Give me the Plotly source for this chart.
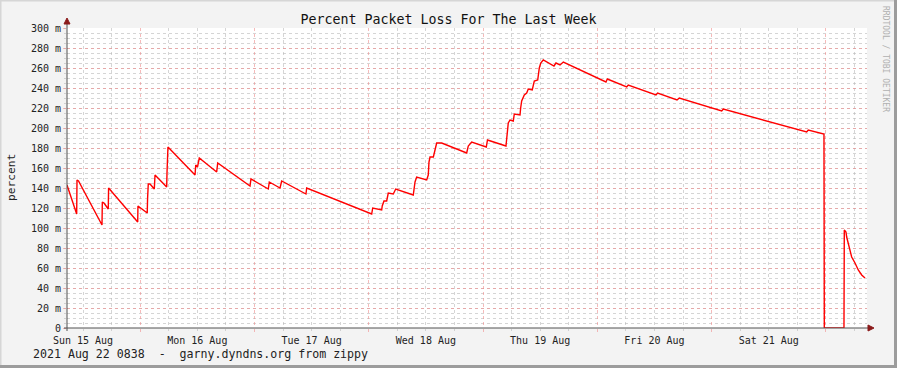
import plotly.graph_objects as go

# ---- data (percent packet loss, in milli-percent) ----
times = [
    "2021-08-15 08:38", "2021-08-15 10:40", "2021-08-15 10:44", "2021-08-15 11:03",
    "2021-08-15 15:59", "2021-08-15 16:03", "2021-08-15 16:24", "2021-08-15 17:18",
    "2021-08-15 17:22", "2021-08-15 23:29", "2021-08-15 23:32", "2021-08-16 01:29",
    "2021-08-16 01:33", "2021-08-16 01:42", "2021-08-16 02:04", "2021-08-16 02:58",
    "2021-08-16 03:07", "2021-08-16 05:34", "2021-08-16 05:38", "2021-08-16 05:50",
    "2021-08-16 11:31", "2021-08-16 11:40", "2021-08-16 12:02", "2021-08-16 12:25",
    "2021-08-16 16:04", "2021-08-16 16:17", "2021-08-16 23:04", "2021-08-16 23:16",
    "2021-08-17 02:54", "2021-08-17 03:07", "2021-08-17 05:22", "2021-08-17 05:43",
    "2021-08-17 10:49", "2021-08-17 10:58", "2021-08-18 00:37", "2021-08-18 00:50",
    "2021-08-18 02:43", "2021-08-18 02:50", "2021-08-18 03:12", "2021-08-18 03:46",
    "2021-08-18 04:06", "2021-08-18 05:09", "2021-08-18 05:40", "2021-08-18 09:21",
    "2021-08-18 09:43", "2021-08-18 10:04", "2021-08-18 12:10", "2021-08-18 12:30",
    "2021-08-18 12:39", "2021-08-18 12:52", "2021-08-18 13:34", "2021-08-18 13:55",
    "2021-08-18 14:16", "2021-08-18 15:19", "2021-08-18 20:34", "2021-08-18 20:54",
    "2021-08-18 21:37", "2021-08-19 00:41", "2021-08-19 00:56", "2021-08-19 04:49",
    "2021-08-19 04:58", "2021-08-19 05:11", "2021-08-19 05:18", "2021-08-19 05:40",
    "2021-08-19 06:21", "2021-08-19 06:34", "2021-08-19 07:46", "2021-08-19 07:54",
    "2021-08-19 08:07", "2021-08-19 08:40", "2021-08-19 09:10", "2021-08-19 09:30",
    "2021-08-19 10:20", "2021-08-19 10:46", "2021-08-19 11:29", "2021-08-19 11:49",
    "2021-08-19 12:07", "2021-08-19 12:39", "2021-08-19 14:54", "2021-08-19 15:19",
    "2021-08-19 16:10", "2021-08-19 16:52", "2021-08-20 01:49", "2021-08-20 02:06",
    "2021-08-20 06:10", "2021-08-20 06:30", "2021-08-20 12:19", "2021-08-20 12:40",
    "2021-08-20 16:44", "2021-08-20 17:13", "2021-08-21 02:07", "2021-08-21 02:28",
    "2021-08-21 19:58", "2021-08-21 20:18", "2021-08-21 23:36", "2021-08-21 23:40",
    "2021-08-22 03:48", "2021-08-22 03:52", "2021-08-22 04:13", "2021-08-22 04:22",
    "2021-08-22 04:42", "2021-08-22 05:04", "2021-08-22 05:25", "2021-08-22 06:07",
    "2021-08-22 06:48", "2021-08-22 07:31", "2021-08-22 08:13",
]
loss_milli = [
    143, 114, 148, 147,
    103, 126, 125, 119,
    140, 106, 122, 115,
    129, 144, 144, 139,
    153, 141, 155, 181,
    153, 163, 161, 170,
    156, 165, 142, 149,
    139, 146, 140, 147,
    134, 140, 114, 120,
    118, 122, 127, 127,
    135, 134, 139, 133,
    146, 151, 148, 153,
    166, 171, 171, 180,
    185, 185, 175, 182,
    186, 181, 188, 182,
    191, 198, 205, 208,
    207, 214, 213, 220,
    227, 233, 235, 239,
    238, 247, 248, 260,
    265, 268, 262, 265,
    263, 266, 246, 249,
    241, 243, 233, 235,
    228, 230, 217, 219,
    196, 198, 194, 0,
    0, 98, 96, 91,
    85, 76, 71, 65,
    58, 53, 50,
]

y_tickvals = [0, 20, 40, 60, 80, 100, 120, 140, 160, 180, 200, 220, 240, 260, 280, 300]
y_ticktext = ["0"] + [f"{v} m" for v in y_tickvals[1:]]

x_start = "2021-08-15 08:38"
x_end = "2021-08-22 08:38"

title_text = "Percent Packet Loss For The Last Week"
y_title = "percent"
footer_text = "2021 Aug 22 0838  -  garny.dyndns.org from zippy"
side_text = "RRDTOOL / TOBI OETIKER"

FONT = "DejaVu Sans Mono"
MAJOR = "rgba(240,140,140,0.6)"
MINOR = "rgba(185,185,185,0.6)"
AXIS = "#505050"
ARROW = "#8b1a1a"

W, H = 897, 368
L, R, T, B = 67, 30, 28, 40
PW, PH = W - L - R, H - T - B


def px(x):
    return (x - L) / PW


def py(y):
    return (H - B - y) / PH


fig = go.Figure()
fig.add_trace(go.Scatter(
    x=times, y=loss_milli, mode="lines",
    line=dict(color="#ff0000", width=1.4, shape="linear"),
    hoverinfo="x+y", showlegend=False,
))

fig.update_layout(
    width=W, height=H,
    margin=dict(l=L, r=R, t=T, b=B, autoexpand=False),
    paper_bgcolor="#f3f3f3",
    plot_bgcolor="#ffffff",
    font=dict(family=FONT, size=11, color="#222222"),
    title=dict(text=title_text, x=0.5, xref="container", xanchor="center",
               y=1 - 19 / H, yref="container", yanchor="middle",
               font=dict(family=FONT, size=13.3, color="#111111")),
    xaxis=dict(
        type="date", range=[x_start, x_end], automargin=False,
        tick0="2021-08-15 00:00", dtick=86400000,
        ticklabelmode="period", tickformat="%a %d %b",
        showgrid=True, gridcolor=MAJOR, griddash="dot", gridwidth=1,
        ticks="outside", ticklen=3, tickcolor=MAJOR,
        minor=dict(dtick=6 * 3600000, showgrid=True, gridcolor=MINOR,
                   griddash="dot", gridwidth=1, ticks="outside", ticklen=2,
                   tickcolor=MINOR),
        showline=False, zeroline=False,
        tickfont=dict(family=FONT, size=10, color="#222222"),
    ),
    yaxis=dict(
        range=[0, 300], tickvals=y_tickvals, ticktext=y_ticktext, automargin=False,
        showgrid=True, gridcolor=MAJOR, griddash="dot", gridwidth=1,
        ticks="outside", ticklen=3, tickcolor=MAJOR,
        minor=dict(dtick=5, showgrid=True, gridcolor=MINOR, griddash="dot",
                   gridwidth=1, ticks="outside", ticklen=2, tickcolor=MINOR),
        showline=False, zeroline=False,
        tickfont=dict(family=FONT, size=10, color="#222222"),
    ),
)

shapes = [
    # image frame (light top/left, darker bottom/right)
    dict(type="line", xref="paper", yref="paper", x0=px(0), x1=px(W), y0=py(0.5), y1=py(0.5),
         line=dict(color="#d6d6d6", width=2)),
    dict(type="line", xref="paper", yref="paper", x0=px(0.5), x1=px(0.5), y0=py(0), y1=py(H),
         line=dict(color="#d6d6d6", width=2)),
    dict(type="line", xref="paper", yref="paper", x0=px(0), x1=px(W), y0=py(366.5), y1=py(366.5),
         line=dict(color="#9c9c9c", width=3)),
    dict(type="line", xref="paper", yref="paper", x0=px(895.5), x1=px(895.5), y0=py(0), y1=py(H),
         line=dict(color="#9c9c9c", width=3)),
    # y axis line
    dict(type="line", xref="paper", yref="paper", x0=px(67), x1=px(67), y0=py(331), y1=py(22),
         line=dict(color=AXIS, width=1)),
    # x axis line
    dict(type="line", xref="paper", yref="paper", x0=px(64), x1=px(870), y0=py(328), y1=py(328),
         line=dict(color=AXIS, width=1)),
    # arrow heads
    dict(type="path", xref="paper", yref="paper",
         path=f"M {px(64)} {py(24)} L {px(70)} {py(24)} L {px(67)} {py(18)} Z",
         fillcolor=ARROW, line=dict(color=ARROW, width=1)),
    dict(type="path", xref="paper", yref="paper",
         path=f"M {px(868)} {py(325)} L {px(868)} {py(331)} L {px(874)} {py(328)} Z",
         fillcolor=ARROW, line=dict(color=ARROW, width=1)),
]
fig.update_layout(shapes=shapes)

fig.add_annotation(text=y_title, xref="paper", yref="paper",
                   x=px(11), y=py(177), xanchor="center", yanchor="middle",
                   textangle=-90, showarrow=False,
                   font=dict(family=FONT, size=11.2, color="#222222"))
fig.add_annotation(text=footer_text, xref="paper", yref="paper",
                   x=px(31), y=py(354), xanchor="left", yanchor="middle",
                   showarrow=False, font=dict(family=FONT, size=11.6, color="#222222"))
fig.add_annotation(text=side_text, xref="paper", yref="paper",
                   x=px(886), y=py(59), xanchor="center", yanchor="middle",
                   textangle=90, showarrow=False,
                   font=dict(family=FONT, size=8, color="#b0b0b0"))

fig.write_html("out.html", config={"displayModeBar": False},
               post_script="document.body.style.margin='0';")
